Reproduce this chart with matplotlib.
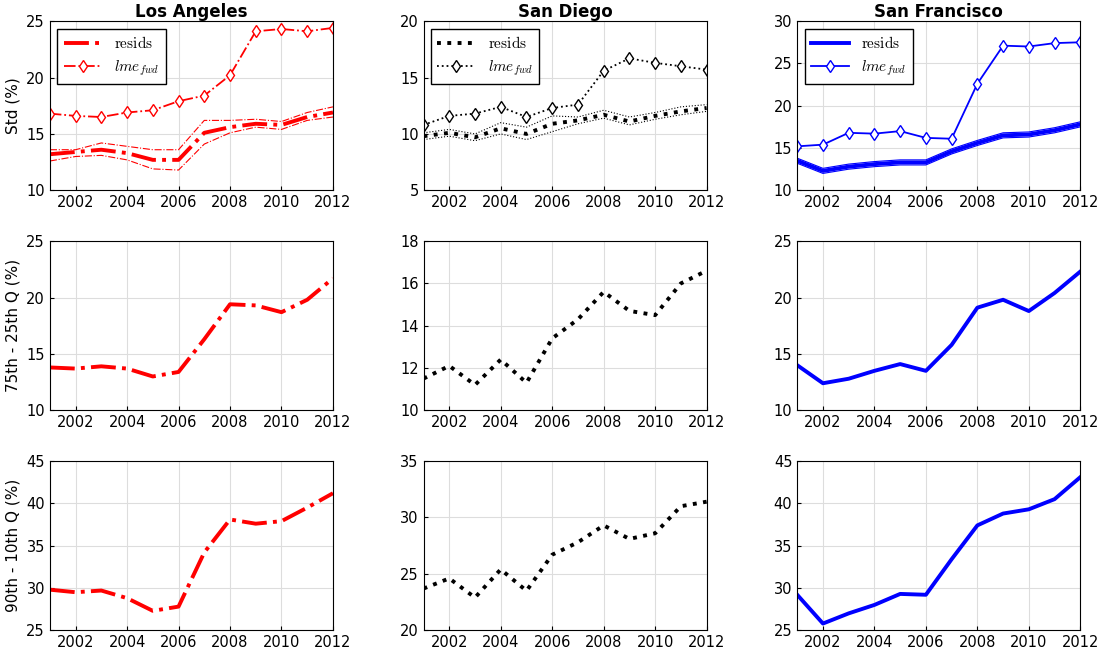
import matplotlib.pyplot as plt
import numpy as np

plt.rcParams['mathtext.fontset'] = 'cm'

years = list(range(2001, 2013))
cities = ["Los Angeles", "San Diego", "San Francisco"]
colors = ["red", "black", "blue"]
styles = ["-.", ":", "-"]

# row 1: Std
std_resids = [
    [13.2, 13.4, 13.6, 13.3, 12.7, 12.7, 15.1, 15.6, 15.9, 15.8, 16.5, 16.9],
    [9.8, 10.1, 9.7, 10.5, 10.0, 10.9, 11.2, 11.7, 11.1, 11.6, 12.0, 12.3],
    [13.5, 12.3, 12.8, 13.1, 13.3, 13.3, 14.6, 15.6, 16.5, 16.6, 17.1, 17.8],
]
std_upper = [
    [13.6, 13.6, 14.2, 13.9, 13.6, 13.6, 16.2, 16.2, 16.3, 16.1, 16.9, 17.4],
    [10.1, 10.4, 10.0, 11.0, 10.6, 11.6, 11.5, 12.1, 11.5, 11.9, 12.4, 12.6],
    [13.8, 12.6, 13.1, 13.4, 13.6, 13.6, 14.9, 15.9, 16.8, 16.9, 17.4, 18.1],
]
std_lower = [
    [12.6, 13.0, 13.1, 12.7, 11.9, 11.8, 14.1, 15.1, 15.6, 15.4, 16.2, 16.5],
    [9.5, 9.8, 9.4, 10.0, 9.5, 10.2, 10.9, 11.4, 10.8, 11.3, 11.7, 12.0],
    [13.2, 12.0, 12.5, 12.8, 13.0, 13.0, 14.3, 15.3, 16.2, 16.3, 16.8, 17.5],
]
std_lme = [
    [16.8, 16.6, 16.5, 16.9, 17.1, 17.9, 18.4, 20.2, 24.1, 24.3, 24.1, 24.4],
    [10.8, 11.6, 11.8, 12.4, 11.5, 12.3, 12.6, 15.6, 16.7, 16.3, 16.0, 15.7],
    [15.2, 15.4, 16.8, 16.7, 17.0, 16.2, 16.1, 22.6, 27.1, 27.0, 27.4, 27.5],
]
# row 2: 75th - 25th
iqr = [
    [13.8, 13.7, 13.9, 13.7, 13.0, 13.4, 16.3, 19.4, 19.3, 18.7, 19.8, 21.7],
    [11.5, 12.1, 11.2, 12.4, 11.3, 13.4, 14.3, 15.6, 14.7, 14.5, 16.0, 16.6],
    [14.0, 12.4, 12.8, 13.5, 14.1, 13.5, 15.8, 19.1, 19.8, 18.8, 20.4, 22.3],
]
# row 3: 90th - 10th
idr = [
    [29.8, 29.5, 29.7, 28.8, 27.3, 27.8, 34.2, 38.1, 37.6, 37.9, 39.5, 41.2],
    [23.7, 24.6, 22.9, 25.4, 23.5, 26.7, 27.8, 29.3, 28.1, 28.6, 31.0, 31.4],
    [29.2, 25.8, 27.0, 28.0, 29.3, 29.2, 33.4, 37.4, 38.8, 39.3, 40.5, 43.1],
]

ylims = [[(10, 25), (5, 20), (10, 30)],
         [(10, 25), (10, 18), (10, 25)],
         [(25, 45), (20, 35), (25, 45)]]
ylabels = ["Std (%)", "75th - 25th Q (%)", "90th - 10th Q (%)"]

fig, axes = plt.subplots(3, 3, figsize=(11.08, 6.6), dpi=100)
fig.subplots_adjust(left=0.045, right=0.975, top=0.968, bottom=0.045, wspace=0.32, hspace=0.3)

for j in range(3):
    c, ls = colors[j], styles[j]
    ax = axes[0, j]
    ax.plot(years, std_resids[j], ls, color=c, lw=2.8, label=r"$\mathrm{resids}$")
    ax.plot(years, std_upper[j], ls, color=c, lw=0.8)
    ax.plot(years, std_lower[j], ls, color=c, lw=0.8)
    ax.plot(years, std_lme[j], ls, color=c, lw=1.3, marker="d", mfc="white",
            ms=6, label=r"$lme_{fwd}$")
    ax.set_title(cities[j], fontweight="bold", fontsize=12, pad=2)
    ax.legend(loc="upper left", fontsize=11, fancybox=False, edgecolor="black",
              framealpha=1, handlelength=2.5)
    axes[1, j].plot(years, iqr[j], ls, color=c, lw=2.8)
    axes[2, j].plot(years, idr[j], ls, color=c, lw=2.8)
    for i in range(3):
        a = axes[i, j]
        a.set_xlim(2001, 2012)
        a.set_ylim(*ylims[i][j])
        a.set_xticks(range(2002, 2013, 2))
        a.grid(True, color="#dddddd", lw=0.8)
        a.tick_params(direction="in", labelsize=10.5, length=3)
        if j == 0:
            a.set_ylabel(ylabels[i], fontsize=11)

plt.savefig("out.png")
